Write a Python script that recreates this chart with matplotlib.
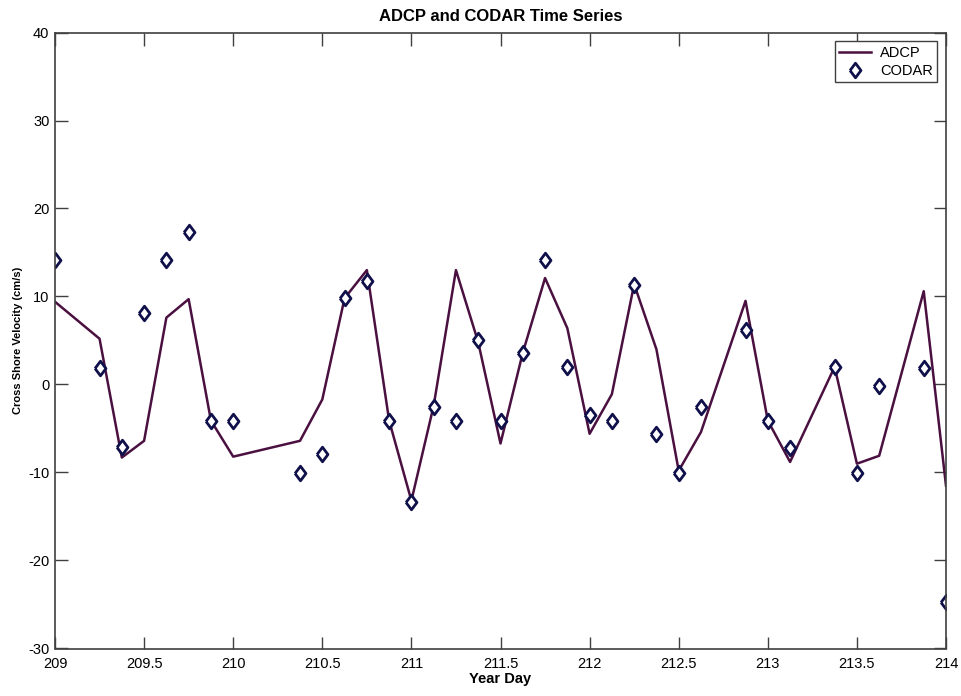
import numpy as np
import matplotlib
matplotlib.use('Agg')
import matplotlib.pyplot as plt

plt.rcParams['font.family'] = ['Liberation Sans', 'DejaVu Sans']
plt.rcParams['axes.unicode_minus'] = False

# year day of each sample (3 hourly, with gaps)
day = [209, 209.25, 209.375, 209.5, 209.625, 209.75, 209.875, 210,
       210.375, 210.5, 210.625, 210.75, 210.875, 211, 211.125, 211.25,
       211.375, 211.5, 211.625, 211.75, 211.875, 212, 212.125, 212.25,
       212.375, 212.5, 212.625, 212.875, 213, 213.125, 213.375, 213.5,
       213.625, 213.875, 214]

adcp = [9.4, 5.2, -8.3, -6.4, 7.6, 9.7, -4.1, -8.2,
        -6.4, -1.7, 9.8, 13.0, -4.1, -13.2, -2.4, 13.0,
        4.8, -6.7, 3.6, 12.1, 6.4, -5.6, -1.1, 11.4,
        4.0, -9.8, -5.4, 9.5, -4.1, -8.8, 2.0, -9.0,
        -8.1, 10.6, -11.5]

codar = [14.2, 1.9, -7.1, 8.1, 14.2, 17.3, -4.1, -4.1,
         -10.1, -7.9, 9.8, 11.8, -4.1, -13.4, -2.6, -4.1,
         5.1, -4.1, 3.6, 14.2, 2.0, -3.5, -4.1, 11.3,
         -5.6, -10.1, -2.6, 6.2, -4.1, -7.2, 2.0, -10.1,
         -0.2, 1.9, -24.7]

diamond = [(-0.75, 0), (0, 1), (0.75, 0), (0, -1), (-0.75, 0)]

fig = plt.figure(figsize=(9.61, 6.96), dpi=100)
ax = fig.add_axes([55/961, 1-648.5/696, (946-55)/961, (648.5-32.5)/696])

ax.plot(day, adcp, color='#4a1040', linewidth=1.8, label='ADCP')
ax.plot(day, codar, linestyle='none', marker=diamond, markersize=10.5,
        markerfacecolor='white', markeredgecolor='#10104a', markeredgewidth=2,
        label='CODAR')

ax.set_xlim(209, 214)
ax.set_ylim(-30, 40)
ax.set_xticks(np.arange(209, 214.01, 0.5))
ax.set_xticklabels(['209', '209.5', '210', '210.5', '211', '211.5', '212',
                    '212.5', '213', '213.5', '214'])
ax.set_yticks(np.arange(-30, 41, 10))
ax.tick_params(direction='in', length=9, width=1, color='#404040',
               labelsize=10.5, top=True, right=True)
ax.tick_params(axis='x', pad=6)
ax.tick_params(axis='y', pad=4)
for s in ax.spines.values():
    s.set_color('#404040')
    s.set_linewidth(1.2)

ax.set_title('ADCP and CODAR Time Series', fontsize=12, fontweight='bold', pad=8)
ax.set_xlabel('Year Day', fontsize=10.5, fontweight='bold', labelpad=1)
ax.set_ylabel('Cross Shore Velocity (cm/s)', fontsize=8, fontweight='bold')
ax.yaxis.set_label_coords(-0.036, 0.5)

leg = ax.legend(loc='upper right', fontsize=10.5, fancybox=False, framealpha=1,
                edgecolor='#404040', borderaxespad=0.6, handlelength=2.2,
                handletextpad=0.6, borderpad=0.3, labelspacing=0.3)
leg.get_frame().set_linewidth(1)

fig.savefig('out.png', dpi=100)
